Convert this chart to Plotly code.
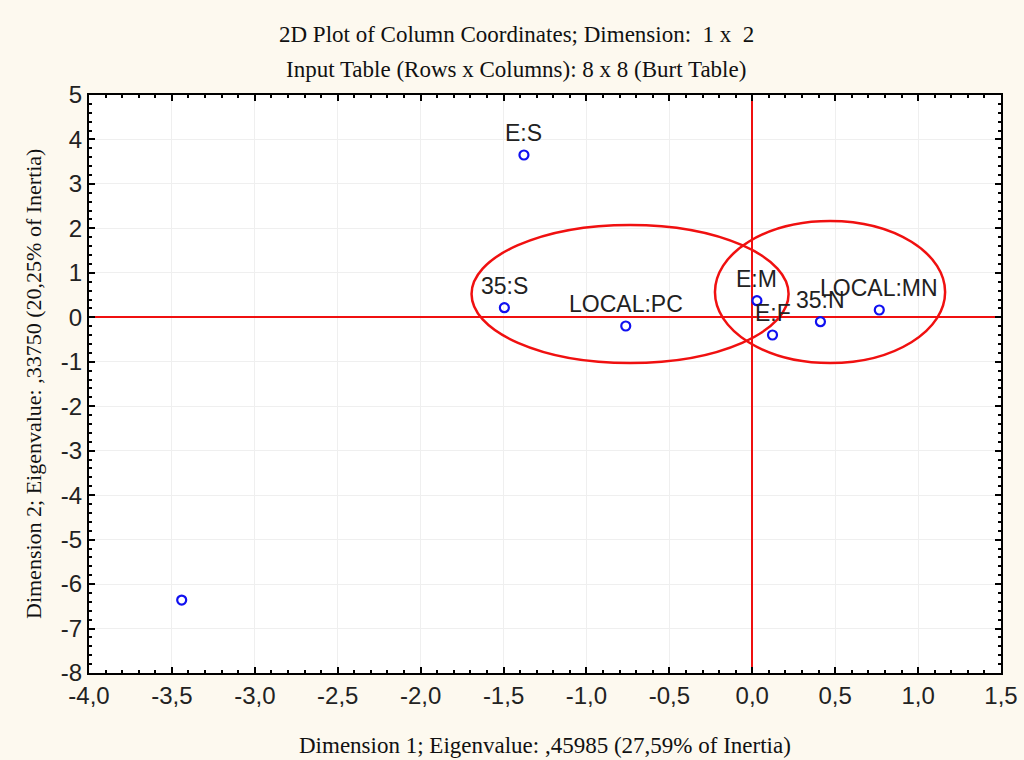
import plotly.graph_objects as go

# Column coordinates (Dimension 1, Dimension 2)
labels = ["E:S", "35:S", "LOCAL:PC", "E:M", "E:F", "35:N", "LOCAL:MN", ""]
dim1 = [-1.377, -1.495, -0.763, 0.028, 0.122, 0.411, 0.766, -3.441]
dim2 = [3.65, 0.216, -0.196, 0.373, -0.398, -0.099, 0.164, -6.36]

# Ellipses grouping clusters: centre x, centre y, radius x, radius y
ell_cx = [-0.737, 0.469]
ell_cy = [0.524, 0.569]
ell_rx = [0.956, 0.694]
ell_ry = [1.552, 1.597]

x_ticks = [-4.0, -3.5, -3.0, -2.5, -2.0, -1.5, -1.0, -0.5, 0.0, 0.5, 1.0, 1.5]
x_ticktext = ["-4,0", "-3,5", "-3,0", "-2,5", "-2,0", "-1,5", "-1,0", "-0,5", "0,0", "0,5", "1,0", "1,5"]
y_ticks = [5, 4, 3, 2, 1, 0, -1, -2, -3, -4, -5, -6, -7, -8]
y_ticktext = ["5", "4", "3", "2", "1", "0", "-1", "-2", "-3", "-4", "-5", "-6", "-7", "-8"]

title1 = "2D Plot of Column Coordinates; Dimension:  1 x  2"
title2 = "Input Table (Rows x Columns): 8 x 8 (Burt Table)"
xtitle = "Dimension 1; Eigenvalue: ,45985 (27,59% of Inertia)"
ytitle = "Dimension 2; Eigenvalue: ,33750 (20,25% of Inertia)"

fig = go.Figure()
fig.add_trace(go.Scatter(
    x=dim1, y=dim2, mode="markers",
    marker=dict(symbol="circle-open", size=9, color="#1010F0", line=dict(width=2.2, color="#1010F0")),
    showlegend=False, cliponaxis=False,
))

shapes = []
for cx, cy, rx, ry in zip(ell_cx, ell_cy, ell_rx, ell_ry):
    shapes.append(dict(type="circle", xref="x", yref="y", x0=cx - rx, x1=cx + rx,
                       y0=cy - ry, y1=cy + ry, line=dict(color="#F01010", width=2.5), layer="above"))

annotations = []
for lx, ly, lt in zip(dim1, dim2, labels):
    if lt:
        annotations.append(dict(text=lt, x=lx, y=ly, xref="x", yref="y", showarrow=False,
                                 yshift=22, xanchor="center", yanchor="middle",
                                 font=dict(family="Liberation Sans, Arial", size=23, color="#222222")))

serif = "Liberation Serif, Times New Roman"
title_x = (516 - 89) / 912
annotations += [
    dict(text=title1, x=title_x, y=(673 - 35) / 578, xref="paper", yref="paper", showarrow=False,
         font=dict(family=serif, size=23, color="#111111"), xanchor="center", yanchor="middle"),
    dict(text=title2, x=title_x, y=(673 - 70) / 578, xref="paper", yref="paper", showarrow=False,
         font=dict(family=serif, size=23, color="#111111"), xanchor="center", yanchor="middle"),
    dict(text=xtitle, x=0.5, y=(673 - 745) / 578, xref="paper", yref="paper", showarrow=False,
         font=dict(family=serif, size=23, color="#111111"), xanchor="center", yanchor="middle"),
    dict(text=ytitle, x=(33 - 89) / 912, y=0.5, xref="paper", yref="paper", showarrow=False,
         textangle=-90, font=dict(family=serif, size=22, color="#111111"), xanchor="center", yanchor="middle"),
]

axis_common = dict(
    showline=True, linecolor="black", linewidth=2, mirror="ticks",
    ticks="inside", ticklen=6, tickwidth=1.5, tickcolor="black",
    showgrid=True, gridcolor="#EFEFEF", gridwidth=1,
    zeroline=True, zerolinecolor="#F01010", zerolinewidth=2,
    tickfont=dict(family="Liberation Sans, Arial", size=24, color="#222222"),
    automargin=False,
)

fig.update_layout(
    width=1024, height=760,
    margin=dict(l=89, r=23, t=95, b=87),
    paper_bgcolor="#FDF9EF", plot_bgcolor="white",
    shapes=shapes, annotations=annotations,
    xaxis=dict(range=[-4.0, 1.5], tickvals=x_ticks, ticktext=x_ticktext,
               minor=dict(dtick=0.1, ticks="inside", ticklen=3, tickcolor="black", showgrid=False),
               **axis_common),
    yaxis=dict(range=[-8, 5], tickvals=y_ticks, ticktext=y_ticktext,
               minor=dict(dtick=0.2, ticks="inside", ticklen=3, tickcolor="black", showgrid=False),
               **axis_common),
)

fig.write_html("out.html", config={"displayModeBar": False},
               post_script="document.body.style.margin='0';document.body.style.overflow='hidden';")
